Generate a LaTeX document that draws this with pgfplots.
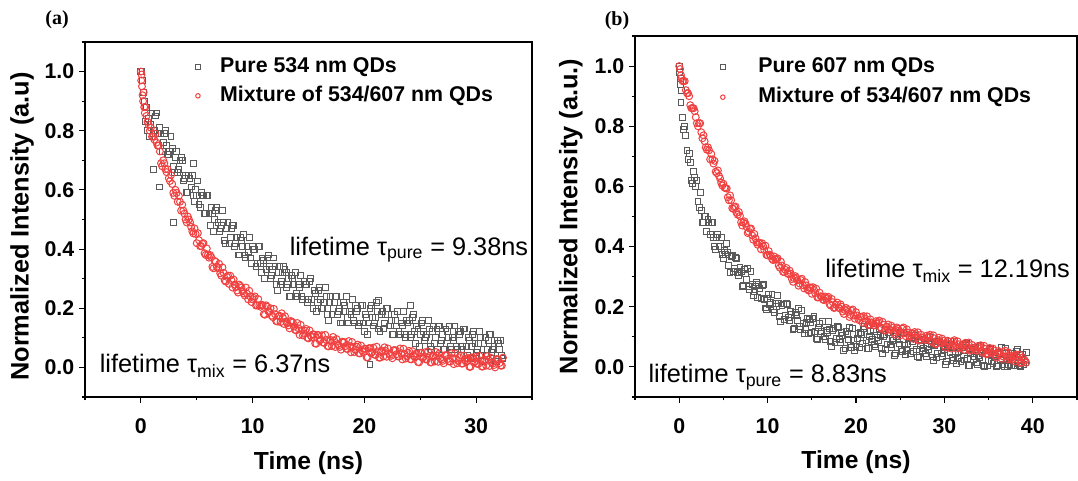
\documentclass[border=0pt]{standalone}
\usepackage{pgfplots}
\pgfplotsset{compat=1.18}
\usepackage{fontspec}
\setmainfont{Liberation Sans}
\newfontfamily\seriffont{Liberation Serif}
\definecolor{sqgray}{RGB}{90,90,90}
\definecolor{cired}{RGB}{240,64,64}
\tikzset{ann/.style={anchor=base west, inner sep=0pt, font=\fontsize{19}{23}\selectfont}}
\pgfplotsset{
  myaxis/.style={
    scale only axis,
    axis line style={line width=0.9pt},
    every tick/.style={line width=0.8pt, black},
    tick align=outside,
    xtick pos=bottom, ytick pos=left,
    major tick length=4.5pt, minor tick length=2.5pt,
    ymin=-0.1, ymax=1.1,
    ytick={0,0.2,...,1.0},
    minor ytick={-0.1,0.1,0.3,0.5,0.7,0.9,1.1},
    yticklabel style={/pgf/number format/.cd, fixed, fixed zerofill, precision=1},
    xticklabel style={yshift=-8pt},
    /pgf/number format/assume math mode=true,
    tick label style={font=\bfseries\fontsize{16}{19}\selectfont},
    label style={font=\bfseries\fontsize{18.5}{22}\selectfont},
    legend cell align=left,
    legend image code/.code={\draw[##1, mark size=1.7pt] plot coordinates {(0cm,0cm)};},
  },
  sq/.style={only marks, mark=square, mark size=2.2pt, mark options={draw=sqgray, line width=0.75pt, fill=none}},
  ci/.style={only marks, mark=o, mark size=2.6pt, mark options={draw=cired, line width=0.75pt, fill=none}},
}
\begin{document}
\begin{tikzpicture}
\path[use as bounding box] (0,0) rectangle (808.5pt,360.75pt);
\node[font=\seriffont\bfseries\fontsize{15}{18}\selectfont] at (42.75pt,345.75pt) {(a)};
\node[font=\seriffont\bfseries\fontsize{15}{18}\selectfont] at (462.75pt,345pt) {(b)};
% ---------------- panel (a)
\begin{axis}[myaxis,
  at={(63.75pt,63pt)}, anchor=south west,
  width=335.25pt, height=266.25pt,
  xmin=-5, xmax=35,
  xtick={0,10,20,30}, minor xtick={-5,5,15,25,35},
  xlabel={Time (ns)}, ylabel={Normalized Intensity (a.u)},
  xlabel style={at={(axis description cs:0.5,-0.186)}, anchor=center},
  ylabel style={at={(axis description cs:-0.141,0.48)}, anchor=center, font=\bfseries\fontsize{19}{23}\selectfont},
  legend style={draw=none, fill=none, inner sep=0pt, at={(0.247,0.959)}, anchor=north west,
    font=\bfseries\fontsize{16}{19}\selectfont,
    nodes={inner sep=0pt, text height=12pt, text depth=3.5pt},
    row sep=6pt, /tikz/every odd column/.append style={column sep=15pt}},
]
\addplot[sq] coordinates {
(0,1.00)(0.1,1.00)(0.15,0.97)(0.2,0.93)(0.3,0.90)(0.4,0.83)(0.5,0.88)(0.6,0.80)(0.7,0.84)(0.8,0.78)(0.9,0.82)
(1.0,0.86)(1.2,0.80)(1.4,0.86)(1.6,0.75)(1.8,0.79)(2.0,0.76)(2.2,0.80)(2.4,0.72)(2.6,0.73)(2.8,0.74)
(3.0,0.66)(3.2,0.73)(3.4,0.67)(3.6,0.71)(3.8,0.63)(4.0,0.65)(4.2,0.59)(4.4,0.64)(4.6,0.65)(4.8,0.56)
(5.0,0.58)(5.2,0.55)(5.4,0.59)(5.6,0.58)(5.8,0.52)(6.0,0.58)(6.2,0.48)(6.4,0.52)(6.6,0.50)(6.8,0.54)
(7.0,0.46)(7.2,0.48)(7.4,0.49)(7.6,0.42)(7.8,0.49)(8.0,0.44)(8.2,0.48)(8.4,0.41)(8.6,0.44)(8.8,0.38)
(9.0,0.43)(9.2,0.45)(9.4,0.37)(9.6,0.39)(9.8,0.37)(10.0,0.41)(10.2,0.40)(10.4,0.35)(10.6,0.41)(10.8,0.32)
(11.0,0.36)(11.2,0.33)(11.4,0.38)(11.6,0.30)(11.8,0.33)(12.0,0.34)(12.2,0.26)(12.4,0.34)(12.6,0.29)(12.8,0.34)
(13.0,0.27)(13.2,0.30)(13.4,0.24)(13.6,0.30)(13.8,0.32)(14.0,0.24)(14.2,0.27)(14.4,0.24)(14.6,0.29)(14.8,0.28)
(15.0,0.23)(15.2,0.30)(15.4,0.20)(15.6,0.25)(15.8,0.22)(16.0,0.27)(16.2,0.20)(16.4,0.22)(16.6,0.24)(16.8,0.16)
(17.0,0.24)(17.2,0.20)(17.4,0.24)(17.6,0.18)(17.8,0.20)(18.0,0.15)(18.2,0.21)(18.4,0.24)(18.6,0.15)(18.8,0.18)
(19.0,0.16)(19.2,0.21)(19.4,0.20)(19.6,0.15)(19.8,0.21)(20.0,0.12)(20.2,0.17)(20.4,0.15)(20.6,0.21)(20.8,0.14)
(21.0,0.17)(21.2,0.19)(21.4,0.12)(21.6,0.19)(21.8,0.15)(22.0,0.20)(22.2,0.14)(22.4,0.16)(22.6,0.11)(22.8,0.16)
(23.0,0.19)(23.2,0.11)(23.4,0.14)(23.6,0.11)(23.8,0.16)(24.0,0.16)(24.2,0.11)(24.4,0.18)(24.6,0.08)(24.8,0.13)
(25.0,0.11)(25.2,0.16)(25.4,0.09)(25.6,0.11)(25.8,0.13)(26.0,0.06)(26.2,0.14)(26.4,0.10)(26.6,0.14)(26.8,0.08)
(27.0,0.11)(27.2,0.06)(27.4,0.12)(27.6,0.14)(27.8,0.06)(28.0,0.09)(28.2,0.07)(28.4,0.12)(28.6,0.12)(28.8,0.07)
(29.0,0.13)(29.2,0.04)(29.4,0.09)(29.6,0.07)(29.8,0.12)(30.0,0.05)(30.2,0.08)(30.4,0.10)(30.6,0.02)(30.8,0.10)
(31.0,0.06)(31.2,0.11)(31.4,0.05)(31.6,0.07)(31.8,0.02)(32.0,0.08)(32.2,0.09)(32.4,0.03)
(1.1,0.67)(1.7,0.61)(2.9,0.49)(4.7,0.69)(13.0,0.32)(20.5,0.01)(21.3,0.225)(24.1,0.21)
(1.1,0.79)(1.3,0.85)(1.5,0.79)(1.7,0.81)(1.9,0.73)(2.1,0.79)(2.3,0.75)(2.5,0.72)(2.7,0.78)(2.9,0.68)
(3.1,0.71)(3.3,0.66)(3.5,0.70)(3.7,0.70)(3.9,0.64)(4.1,0.59)(4.3,0.65)(4.5,0.61)(4.7,0.58)(4.9,0.60)
(5.1,0.63)(5.3,0.54)(5.5,0.58)(5.7,0.52)(5.9,0.58)(6.1,0.52)(6.3,0.54)(6.5,0.46)(6.7,0.53)(6.9,0.49)
(7.1,0.47)(7.3,0.53)(7.5,0.43)(7.7,0.47)(7.9,0.42)(8.1,0.47)(8.3,0.48)(8.5,0.42)(8.7,0.38)(8.9,0.44)
(9.1,0.41)(9.3,0.38)(9.5,0.41)(9.7,0.44)(9.9,0.35)(10.1,0.40)(10.3,0.34)(10.5,0.41)(10.7,0.35)(10.9,0.37)
(11.1,0.30)(11.3,0.37)(11.5,0.34)(11.7,0.31)(11.9,0.37)(12.1,0.28)(12.3,0.32)(12.5,0.28)(12.7,0.32)(12.9,0.33)
(13.1,0.28)(13.3,0.24)(13.5,0.31)(13.7,0.28)(13.9,0.25)(14.1,0.28)(14.3,0.31)(14.5,0.23)(14.7,0.28)(14.9,0.22)
(15.1,0.29)(15.3,0.23)(15.5,0.26)(15.7,0.19)(15.9,0.26)(16.1,0.23)(16.3,0.20)(16.5,0.27)(16.7,0.18)(16.9,0.22)
(17.1,0.18)(17.3,0.22)(17.5,0.24)(17.7,0.19)(17.9,0.15)(18.1,0.22)(18.3,0.19)(18.5,0.17)(18.7,0.19)(18.9,0.23)
(19.1,0.15)(19.3,0.19)(19.5,0.14)(19.7,0.21)(19.9,0.15)(20.1,0.18)(20.3,0.11)(20.5,0.20)(20.7,0.17)(20.9,0.15)
(21.1,0.22)(21.3,0.13)(21.5,0.18)(21.7,0.13)(21.9,0.18)(22.1,0.20)(22.3,0.14)(22.5,0.11)(22.7,0.18)(22.9,0.14)
(23.1,0.12)(23.3,0.15)(23.5,0.19)(23.7,0.10)(23.9,0.15)(24.1,0.10)(24.3,0.17)(24.5,0.12)(24.7,0.14)(24.9,0.07)
(25.1,0.15)(25.3,0.12)(25.5,0.10)(25.7,0.16)(25.9,0.07)(26.1,0.12)(26.3,0.08)(26.5,0.13)(26.7,0.14)(26.9,0.09)
(27.1,0.06)(27.3,0.13)(27.5,0.10)(27.7,0.07)(27.9,0.10)(28.1,0.14)(28.3,0.06)(28.5,0.11)(28.7,0.06)(28.9,0.13)
(29.1,0.07)(29.3,0.10)(29.5,0.03)(29.7,0.11)(29.9,0.08)(30.1,0.06)(30.3,0.12)(30.5,0.04)(30.7,0.08)(30.9,0.04)
(31.1,0.09)(31.3,0.11)(31.5,0.06)(31.7,0.02)(31.9,0.09)(32.1,0.06)(32.3,0.04)
};
\addlegendentry{Pure 534 nm QDs}
\addplot[ci] coordinates {
(0,1.00)(0.03,0.97)(0.06,0.99)(0.1,0.95)(0.15,0.92)(0.2,0.90)(0.25,0.93)(0.3,0.88)(0.35,0.86)(0.4,0.88)
(0.5,0.85)(0.6,0.83)(0.7,0.82)(0.8,0.80)(0.9,0.81)(1.0,0.78)
(1.2,0.77)(1.4,0.76)(1.6,0.75)(1.8,0.69)(2.0,0.70)(2.2,0.67)(2.4,0.67)(2.6,0.63)(2.8,0.62)(3.0,0.58)
(3.2,0.59)(3.4,0.58)(3.6,0.53)(3.8,0.53)(4.0,0.50)(4.2,0.51)(4.4,0.49)(4.6,0.46)(4.8,0.47)(5.0,0.42)
(5.2,0.43)(5.4,0.41)(5.6,0.42)(5.8,0.38)(6.0,0.38)(6.2,0.38)(6.4,0.34)(6.6,0.36)(6.8,0.34)(7.0,0.35)
(7.2,0.31)(7.4,0.32)(7.6,0.29)(7.8,0.31)(8.0,0.31)(8.2,0.27)(8.4,0.28)(8.6,0.26)(8.8,0.28)(9.0,0.27)
(9.2,0.25)(9.4,0.27)(9.6,0.23)(9.8,0.24)(10.0,0.23)(10.2,0.24)(10.4,0.21)(10.6,0.21)(10.8,0.21)(11.0,0.18)
(11.2,0.21)(11.4,0.19)(11.6,0.20)(11.8,0.17)(12.0,0.18)(12.2,0.155)(12.4,0.175)(12.6,0.183)(12.8,0.147)(13.0,0.155)
(13.2,0.142)(13.4,0.157)(13.6,0.152)(13.8,0.127)(14.0,0.150)(14.2,0.110)(14.4,0.126)(14.6,0.114)(14.8,0.130)(15.0,0.098)
(15.2,0.107)(15.4,0.112)(15.6,0.081)(15.8,0.110)(16.0,0.091)(16.2,0.109)(16.4,0.083)(16.6,0.093)(16.8,0.071)(17.0,0.093)
(17.2,0.103)(17.4,0.069)(17.6,0.079)(17.8,0.069)(18.0,0.087)(18.2,0.085)(18.4,0.063)(18.6,0.089)(18.8,0.051)(19.0,0.069)
(19.2,0.059)(19.4,0.077)(19.6,0.047)(19.8,0.057)(20.0,0.063)(20.2,0.034)(20.4,0.065)(20.6,0.048)(20.8,0.067)(21.0,0.042)
(21.2,0.054)(21.4,0.033)(21.6,0.057)(21.8,0.068)(22.0,0.036)(22.2,0.047)(22.4,0.039)(22.6,0.058)(22.8,0.058)(23.0,0.037)
(23.2,0.064)(23.4,0.027)(23.6,0.046)(23.8,0.037)(24.0,0.056)(24.2,0.027)(24.4,0.039)(24.6,0.046)(24.8,0.018)(25.0,0.049)
(25.2,0.032)(25.4,0.051)(25.6,0.027)(25.8,0.038)(26.0,0.017)(26.2,0.040)(26.4,0.052)(26.6,0.019)(26.8,0.031)(27.0,0.022)
(27.2,0.041)(27.4,0.041)(27.6,0.020)(27.8,0.048)(28.0,0.011)(28.2,0.030)(28.4,0.022)(28.6,0.041)(28.8,0.013)(29.0,0.024)
(29.2,0.031)(29.4,0.002)(29.6,0.034)(29.8,0.017)(30.0,0.036)(30.2,0.012)(30.4,0.023)(30.6,0.003)(30.8,0.026)(31.0,0.038)
(31.2,0.005)(31.4,0.017)(31.6,0.008)(31.8,0.028)(32.0,0.027)(32.2,0.006)(32.4,0.033)
(1.1,0.78)(1.3,0.79)(1.5,0.75)(1.7,0.73)(1.9,0.68)(2.1,0.69)(2.3,0.66)(2.5,0.64)(2.7,0.65)(2.9,0.59)
(3.1,0.60)(3.3,0.56)(3.5,0.56)(3.7,0.55)(3.9,0.52)(4.1,0.49)(4.3,0.50)(4.5,0.475)(4.7,0.453)(4.9,0.451)
(5.1,0.454)(5.3,0.410)(5.5,0.418)(5.7,0.386)(5.9,0.402)(6.1,0.371)(6.3,0.373)(6.5,0.335)(6.7,0.357)(6.9,0.335)
(7.1,0.318)(7.3,0.338)(7.5,0.294)(7.7,0.306)(7.9,0.282)(8.1,0.295)(8.3,0.297)(8.5,0.271)(8.7,0.253)(8.9,0.275)
(9.1,0.257)(9.3,0.243)(9.5,0.249)(9.7,0.259)(9.9,0.221)(10.1,0.235)(10.3,0.209)(10.5,0.231)(10.7,0.205)(10.9,0.211)
(11.1,0.178)(11.3,0.205)(11.5,0.188)(11.7,0.175)(11.9,0.198)(12.1,0.157)(12.3,0.173)(12.5,0.153)(12.7,0.169)(12.9,0.173)
(13.1,0.149)(13.3,0.132)(13.5,0.155)(13.7,0.138)(13.9,0.125)(14.1,0.132)(14.3,0.144)(14.5,0.108)(14.7,0.124)(14.9,0.100)
(15.1,0.125)(15.3,0.102)(15.5,0.111)(15.7,0.080)(15.9,0.109)(16.1,0.094)(16.3,0.084)(16.5,0.110)(16.7,0.072)(16.9,0.090)
(17.1,0.072)(17.3,0.090)(17.5,0.096)(17.7,0.074)(17.9,0.060)(18.1,0.086)(18.3,0.072)(18.5,0.062)(18.7,0.072)(18.9,0.086)
(19.1,0.052)(19.3,0.070)(19.5,0.048)(19.7,0.074)(19.9,0.052)(20.1,0.063)(20.3,0.034)(20.5,0.065)(20.7,0.052)(20.9,0.043)
(21.1,0.070)(21.3,0.033)(21.5,0.053)(21.7,0.037)(21.9,0.056)(22.1,0.064)(22.3,0.043)(22.5,0.031)(22.7,0.058)(22.9,0.045)
(23.1,0.037)(23.3,0.048)(23.5,0.063)(23.7,0.030)(23.9,0.049)(24.1,0.028)(24.3,0.055)(24.5,0.035)(24.7,0.046)(24.9,0.017)
(25.1,0.049)(25.3,0.036)(25.5,0.027)(25.7,0.054)(25.9,0.017)(26.1,0.037)(26.3,0.020)(26.5,0.040)(26.7,0.047)(26.9,0.026)
(27.1,0.014)(27.3,0.041)(27.5,0.029)(27.7,0.020)(27.9,0.031)(28.1,0.047)(28.3,0.014)(28.5,0.034)(28.7,0.013)(28.9,0.040)
(29.1,0.020)(29.3,0.031)(29.5,0.002)(29.7,0.033)(29.9,0.020)(30.1,0.012)(30.3,0.039)(30.5,0.003)(30.7,0.023)(30.9,0.006)
(31.1,0.026)(31.3,0.033)(31.5,0.013)(31.7,0.000)(31.9,0.027)(32.1,0.015)(32.3,0.006)
};
\addlegendentry{Mixture of 534/607 nm QDs}
\node[ann] at (axis cs:13.3,0.379) {lifetime τ\textsubscript{pure} = 9.38ns};
\node[ann] at (axis cs:-3.7,-0.017) {lifetime τ\textsubscript{mix} = 6.37ns};
\end{axis}
% ---------------- panel (b)
\begin{axis}[myaxis,
  at={(476.25pt,63pt)}, anchor=south west,
  width=331.5pt, height=270.75pt,
  xmin=-5, xmax=45,
  xtick={0,10,20,30,40}, minor xtick={-5,5,15,25,35,45},
  xlabel={Time (ns)}, ylabel={Normalized Intensity (a.u.)},
  xlabel style={at={(axis description cs:0.5,-0.181)}, anchor=center},
  ylabel style={at={(axis description cs:-0.145,0.5)}, anchor=center, font=\bfseries\fontsize{19}{23}\selectfont},
  legend style={draw=none, fill=none, inner sep=0pt, at={(0.193,0.943)}, anchor=north west,
    font=\bfseries\fontsize{16}{19}\selectfont,
    nodes={inner sep=0pt, text height=12pt, text depth=3.5pt},
    row sep=7pt, /tikz/every odd column/.append style={column sep=25pt}},
]
\addplot[sq] coordinates {
(0,1.00)(0.08,0.98)(0.12,0.94)(0.18,0.96)(0.2,0.88)
(0.25,0.92)(0.5,0.79)(0.75,0.77)(1.0,0.69)(1.25,0.68)(1.5,0.61)(1.75,0.63)(2.0,0.62)(2.25,0.53)(2.5,0.52)
(2.75,0.48)(3.0,0.50)(3.25,0.49)(3.5,0.44)(3.75,0.48)(4.0,0.40)(4.25,0.43)(4.5,0.40)(4.75,0.43)(5.0,0.36)
(5.25,0.375)(5.5,0.381)(5.75,0.315)(6.0,0.369)(6.25,0.328)(6.5,0.360)(6.75,0.303)(7.0,0.318)(7.25,0.270)(7.5,0.311)
(7.75,0.328)(8.0,0.256)(8.25,0.273)(8.5,0.249)(8.75,0.282)(9.0,0.274)(9.25,0.227)(9.5,0.275)(9.75,0.196)(10.0,0.228)
(10.25,0.207)(10.5,0.242)(10.75,0.181)(11.0,0.200)(11.25,0.211)(11.5,0.150)(11.75,0.209)(12.0,0.172)(12.25,0.207)(12.5,0.154)
(12.75,0.173)(13.0,0.128)(13.25,0.172)(13.5,0.193)(13.75,0.125)(14.0,0.145)(14.25,0.125)(14.5,0.162)(14.75,0.158)(15.0,0.114)
(15.25,0.168)(15.5,0.093)(15.75,0.131)(16.0,0.112)(16.25,0.150)(16.5,0.091)(16.75,0.113)(17.0,0.126)(17.25,0.068)(17.5,0.129)
(17.75,0.095)(18.0,0.132)(18.25,0.082)(18.5,0.104)(18.75,0.062)(19.0,0.108)(19.25,0.130)(19.5,0.065)(19.75,0.087)(20.0,0.069)
(20.25,0.112)(20.5,0.114)(20.75,0.077)(21.0,0.135)(21.25,0.062)(21.5,0.102)(21.75,0.085)(22.0,0.124)(22.25,0.066)(22.5,0.089)
(22.75,0.103)(23.0,0.045)(23.25,0.108)(23.5,0.075)(23.75,0.113)(24.0,0.064)(24.25,0.087)(24.5,0.046)(24.75,0.092)(25.0,0.115)
(25.25,0.050)(25.5,0.073)(25.75,0.055)(26.0,0.094)(26.25,0.093)(26.5,0.052)(26.75,0.106)(27.0,0.033)(27.25,0.072)(27.5,0.055)
(27.75,0.093)(28.0,0.036)(28.25,0.059)(28.5,0.074)(28.75,0.020)(29.0,0.079)(29.25,0.046)(29.5,0.085)(29.75,0.035)(30.0,0.058)
(30.25,0.017)(30.5,0.063)(30.75,0.086)(31.0,0.021)(31.25,0.044)(31.5,0.027)(31.75,0.065)(32.0,0.064)(32.25,0.023)(32.5,0.078)
(32.75,0.004)(33.0,0.043)(33.25,0.026)(33.5,0.065)(33.75,0.007)(34.0,0.030)(34.25,0.046)(34.5,0.002)(34.75,0.053)(35.0,0.020)
(35.25,0.060)(35.5,0.011)(35.75,0.035)(36.0,0.003)(36.25,0.041)(36.5,0.064)(36.75,0.000)(37.0,0.023)(37.25,0.007)(37.5,0.046)
(37.75,0.046)(38.0,0.004)(38.25,0.059)(38.5,0.005)(38.75,0.025)(39.0,0.008)(39.25,0.047)
(0.375,0.83)(0.625,0.80)(0.875,0.72)(1.125,0.71)(1.375,0.62)(1.625,0.65)(1.875,0.60)(2.125,0.55)(2.375,0.58)(2.625,0.48)
(2.875,0.50)(3.125,0.45)(3.375,0.48)(3.625,0.48)(3.875,0.43)(4.125,0.39)(4.375,0.44)(4.625,0.40)(4.875,0.375)(5.125,0.388)
(5.375,0.41)(5.625,0.336)(5.875,0.366)(6.125,0.317)(6.375,0.364)(6.625,0.315)(6.875,0.330)(7.125,0.266)(7.375,0.323)(7.625,0.291)
(7.875,0.268)(8.125,0.316)(8.375,0.237)(8.625,0.269)(8.875,0.230)(9.125,0.262)(9.375,0.271)(9.625,0.223)(9.875,0.192)(10.125,0.242)
(10.375,0.213)(10.625,0.192)(10.875,0.211)(11.125,0.238)(11.375,0.169)(11.625,0.204)(11.875,0.159)(12.125,0.210)(12.375,0.165)(12.625,0.184)
(12.875,0.123)(13.125,0.182)(13.375,0.154)(13.625,0.135)(13.875,0.187)(14.125,0.111)(14.375,0.147)(14.625,0.112)(14.875,0.148)(15.125,0.161)
(15.375,0.118)(15.625,0.092)(15.875,0.145)(16.125,0.119)(16.375,0.100)(16.625,0.122)(16.875,0.151)(17.125,0.085)(17.375,0.122)(17.625,0.080)
(17.875,0.133)(18.125,0.091)(18.375,0.113)(18.625,0.055)(18.875,0.117)(19.125,0.091)(19.375,0.073)(19.625,0.128)(19.875,0.054)(20.125,0.094)
(20.375,0.065)(20.625,0.107)(20.875,0.126)(21.125,0.087)(21.375,0.062)(21.625,0.117)(21.875,0.092)(22.125,0.075)(22.375,0.097)(22.625,0.128)
(22.875,0.062)(23.125,0.100)(23.375,0.059)(23.625,0.114)(23.875,0.073)(24.125,0.095)(24.375,0.038)(24.625,0.101)(24.875,0.076)(25.125,0.058)
(25.375,0.113)(25.625,0.040)(25.875,0.079)(26.125,0.045)(26.375,0.084)(26.625,0.099)(26.875,0.058)(27.125,0.032)(27.375,0.087)(27.625,0.062)
(27.875,0.045)(28.125,0.067)(28.375,0.098)(28.625,0.033)(28.875,0.072)(29.125,0.030)(29.375,0.085)(29.625,0.044)(29.875,0.067)(30.125,0.009)
(30.375,0.072)(30.625,0.047)(30.875,0.030)(31.125,0.084)(31.375,0.011)(31.625,0.050)(31.875,0.017)(32.125,0.055)(32.375,0.070)(32.625,0.029)
(32.875,0.004)(33.125,0.058)(33.375,0.033)(33.625,0.016)(33.875,0.039)(34.125,0.070)(34.375,0.005)(34.625,0.044)(34.875,0.003)(35.125,0.059)
(35.375,0.018)(35.625,0.042)(35.875,0.000)(36.125,0.049)(36.375,0.024)(36.625,0.007)(36.875,0.063)(37.125,0.002)(37.375,0.030)(37.625,0.004)
(37.875,0.036)(38.125,0.052)(38.375,0.011)(38.625,0.000)(38.875,0.041)(39.125,0.016)
};
\addlegendentry{Pure 607 nm QDs}
\addplot[ci] coordinates {
(0,1.00)(0.1,0.99)(0.2,0.97)
(0.25,0.96)(0.5,0.95)(0.75,0.92)(1.0,0.91)(1.25,0.87)(1.5,0.86)(1.75,0.85)(2.0,0.81)(2.25,0.81)(2.5,0.78)
(2.75,0.77)(3.0,0.73)(3.25,0.73)(3.5,0.69)(3.75,0.69)(4.0,0.685)(4.25,0.644)(4.5,0.635)(4.75,0.612)(5.0,0.609)
(5.25,0.594)(5.5,0.564)(5.75,0.570)(6.0,0.528)(6.25,0.531)(6.5,0.512)(6.75,0.515)(7.0,0.481)(7.25,0.480)(7.5,0.476)
(7.75,0.445)(8.0,0.459)(8.25,0.437)(8.5,0.442)(8.75,0.414)(9.0,0.413)(9.25,0.391)(9.5,0.401)(9.75,0.403)(10.0,0.371)
(10.25,0.373)(10.5,0.359)(10.75,0.367)(11.0,0.359)(11.25,0.337)(11.5,0.350)(11.75,0.316)(12.0,0.323)(12.25,0.311)(12.5,0.320)
(12.75,0.292)(13.0,0.295)(13.25,0.296)(13.5,0.270)(13.75,0.289)(14.0,0.272)(14.25,0.282)(14.5,0.259)(14.75,0.263)(15.0,0.243)
(15.25,0.256)(15.5,0.260)(15.75,0.231)(16.0,0.235)(16.25,0.224)(16.5,0.234)(16.75,0.229)(17.0,0.209)(17.25,0.226)(17.5,0.196)
(17.75,0.207)(18.0,0.197)(18.25,0.208)(18.5,0.184)(18.75,0.189)(19.0,0.191)(19.25,0.166)(19.5,0.187)(19.75,0.171)(20.0,0.182)
(20.25,0.160)(20.5,0.166)(20.75,0.147)(21.0,0.161)(21.25,0.168)(21.5,0.141)(21.75,0.148)(22.0,0.139)(22.25,0.152)(22.5,0.149)
(22.75,0.132)(23.0,0.150)(23.25,0.121)(23.5,0.133)(23.75,0.125)(24.0,0.137)(24.25,0.115)(24.5,0.123)(24.75,0.127)(25.0,0.105)
(25.25,0.127)(25.5,0.112)(25.75,0.125)(26.0,0.104)(26.25,0.111)(26.5,0.093)(26.75,0.109)(27.0,0.115)(27.25,0.090)(27.5,0.098)
(27.75,0.090)(28.0,0.104)(28.25,0.102)(28.5,0.086)(28.75,0.105)(29.0,0.076)(29.25,0.089)(29.5,0.081)(29.75,0.094)(30.0,0.071)
(30.25,0.079)(30.5,0.084)(30.75,0.061)(31.0,0.084)(31.25,0.071)(31.5,0.085)(31.75,0.065)(32.0,0.073)(32.25,0.057)(32.5,0.074)
(32.75,0.081)(33.0,0.056)(33.25,0.063)(33.5,0.056)(33.75,0.069)(34.0,0.067)(34.25,0.051)(34.5,0.070)(34.75,0.042)(35.0,0.055)
(35.25,0.047)(35.5,0.061)(35.75,0.038)(36.0,0.045)(36.25,0.049)(36.5,0.027)(36.75,0.049)(37.0,0.035)(37.25,0.048)(37.5,0.028)
(37.75,0.035)(38.0,0.018)(38.25,0.034)(38.5,0.041)(38.75,0.015)(39.0,0.022)(39.25,0.014)
(0.375,0.95)(0.625,0.95)(0.875,0.91)(1.125,0.90)(1.375,0.86)(1.625,0.86)(1.875,0.83)(2.125,0.80)(2.375,0.81)(2.625,0.76)
(2.875,0.75)(3.125,0.722)(3.375,0.720)(3.625,0.708)(3.875,0.676)(4.125,0.649)(4.375,0.653)(4.625,0.626)(4.875,0.603)(5.125,0.596)
(5.375,0.593)(5.625,0.554)(5.875,0.554)(6.125,0.525)(6.375,0.533)(6.625,0.506)(6.875,0.502)(7.125,0.470)(7.375,0.484)(7.625,0.465)
(7.875,0.449)(8.125,0.460)(8.375,0.423)(8.625,0.428)(8.875,0.406)(9.125,0.412)(9.375,0.411)(9.625,0.388)(9.875,0.372)(10.125,0.385)
(10.375,0.369)(10.625,0.355)(10.875,0.357)(11.125,0.361)(11.375,0.330)(11.625,0.337)(11.875,0.315)(12.125,0.329)(12.375,0.308)(12.625,0.310)
(12.875,0.283)(13.125,0.302)(13.375,0.288)(13.625,0.277)(13.875,0.293)(14.125,0.261)(14.375,0.271)(14.625,0.254)(14.875,0.264)(15.125,0.265)
(15.375,0.245)(15.625,0.231)(15.875,0.247)(16.125,0.233)(16.375,0.222)(16.625,0.226)(16.875,0.233)(17.125,0.204)(17.375,0.215)(17.625,0.197)
(17.875,0.214)(18.125,0.195)(18.375,0.200)(18.625,0.176)(18.875,0.196)(19.125,0.183)(19.375,0.173)(19.625,0.191)(19.875,0.160)(20.125,0.171)
(20.375,0.155)(20.625,0.167)(20.875,0.169)(21.125,0.151)(21.375,0.139)(21.625,0.158)(21.875,0.146)(22.125,0.138)(22.375,0.144)(22.625,0.154)
(22.875,0.127)(23.125,0.140)(23.375,0.122)(23.625,0.141)(23.875,0.123)(24.125,0.130)(24.375,0.108)(24.625,0.131)(24.875,0.121)(25.125,0.113)
(25.375,0.131)(25.625,0.102)(25.875,0.114)(26.125,0.100)(26.375,0.112)(26.625,0.116)(26.875,0.098)(27.125,0.087)(27.375,0.107)(27.625,0.097)
(27.875,0.090)(28.125,0.097)(28.375,0.107)(28.625,0.082)(28.875,0.095)(29.125,0.078)(29.375,0.097)(29.625,0.080)(29.875,0.087)(30.125,0.064)
(30.375,0.087)(30.625,0.077)(30.875,0.070)(31.125,0.089)(31.375,0.061)(31.625,0.075)(31.875,0.062)(32.125,0.075)(32.375,0.080)(32.625,0.064)
(32.875,0.054)(33.125,0.073)(33.375,0.062)(33.625,0.054)(33.875,0.062)(34.125,0.072)(34.375,0.047)(34.625,0.060)(34.875,0.044)(35.125,0.063)
(35.375,0.046)(35.625,0.054)(35.875,0.031)(36.125,0.053)(36.375,0.042)(36.625,0.035)(36.875,0.054)(37.125,0.025)(37.375,0.038)(37.625,0.024)
(37.875,0.037)(38.125,0.041)(38.375,0.024)(38.625,0.013)(38.875,0.032)(39.125,0.021)
};
\addlegendentry{Mixture of 534/607 nm QDs}
\node[ann] at (axis cs:16.5,0.298) {lifetime τ\textsubscript{mix} = 12.19ns};
\node[ann] at (axis cs:-3.5,-0.052) {lifetime τ\textsubscript{pure} = 8.83ns};
\end{axis}
\end{tikzpicture}
\end{document}
